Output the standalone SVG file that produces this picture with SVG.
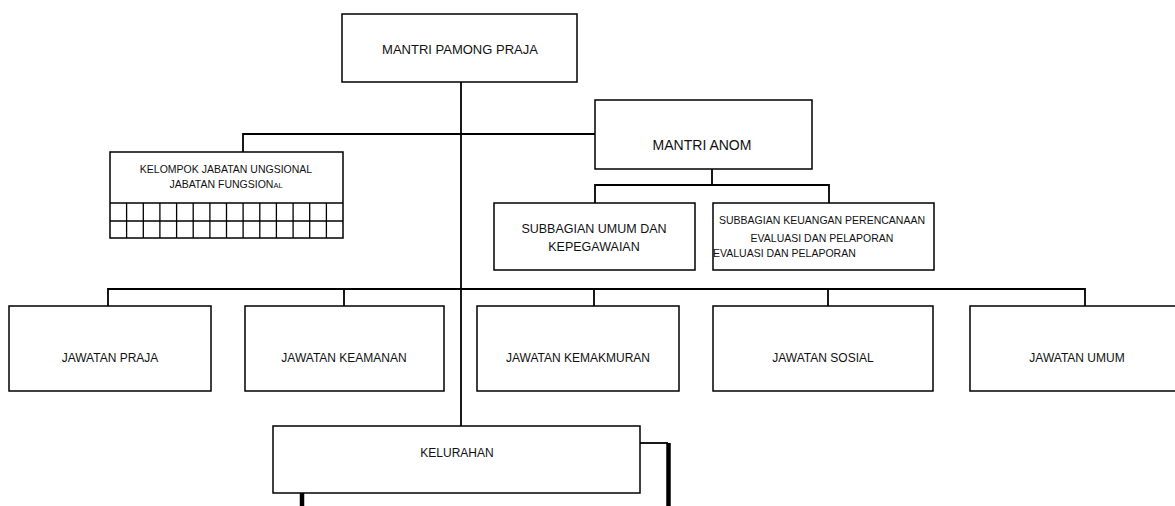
<svg xmlns="http://www.w3.org/2000/svg" width="1175" height="506" viewBox="0 0 1175 506">
<style>
.box{fill:#fff;stroke:#000;stroke-width:1.5}
.ln{fill:none;stroke:#000;stroke-width:1.8}
.thick{fill:none;stroke:#000;stroke-width:4.5}
text{font-family:"Liberation Sans",Arial,sans-serif;fill:#111;text-anchor:middle}
.t12{font-size:12px}
</style>
<rect width="1175" height="506" fill="#fff"/>
<g id="connectors">
<path class="ln" d="M461 82 V426"/>
<path class="ln" d="M243 152 V134 H595"/>
<path class="ln" d="M712 169 V185 M595 203 V185 H829 V203"/>
<path class="ln" d="M108 306 V289 H1085 V306 M344 289 V306 M594 289 V306 M828 289 V306"/>
<path class="ln" d="M636 443 H668"/>
<path class="thick" d="M668.5 443 V506"/>
<path class="thick" d="M302 493 V506"/>
</g>
<g id="mantri-pamong-praja">
<rect class="box" x="342" y="14" width="235" height="68"/>
<text x="460" y="54" style="font-size:13px">MANTRI PAMONG PRAJA</text>
</g>
<g id="mantri-anom">
<rect class="box" x="595" y="100" width="217" height="69"/>
<text x="702" y="150" style="font-size:14px">MANTRI ANOM</text>
</g>
<g id="kelompok-jabatan">
<rect class="box" x="110" y="152" width="233" height="86"/>
<path class="ln" style="stroke-width:1.3" d="M110 203 H343 M110 221 H343 M126.6 203 V238 M143.3 203 V238 M159.9 203 V238 M176.6 203 V238 M193.2 203 V238 M209.9 203 V238 M226.5 203 V238 M243.1 203 V238 M259.8 203 V238 M276.4 203 V238 M293.1 203 V238 M309.7 203 V238 M326.4 203 V238"/>
<text x="226" y="173" style="font-size:10.5px">KELOMPOK JABATAN UNGSIONAL</text>
<text x="226" y="188" style="font-size:10.5px">JABATAN FUNGSION<tspan style="font-size:7.5px">AL</tspan></text>
</g>
<g id="subbagian-umum">
<rect class="box" x="494" y="203" width="201" height="67"/>
<text x="594" y="233" style="font-size:12.5px">SUBBAGIAN UMUM DAN</text>
<text x="594" y="251" style="font-size:12.5px">KEPEGAWAIAN</text>
</g>
<g id="subbagian-keuangan">
<rect class="box" x="713" y="203" width="221" height="67"/>
<text x="822" y="224" style="font-size:10.5px">SUBBAGIAN KEUANGAN PERENCANAAN</text>
<text x="822" y="242" style="font-size:10.5px">EVALUASI DAN PELAPORAN</text>
<text x="713" y="257" style="font-size:10.5px;text-anchor:start">EVALUASI DAN PELAPORAN</text>
</g>
<g id="jawatan-praja">
<rect class="box" x="9" y="306" width="202" height="85"/>
<text class="t12" x="110" y="362">JAWATAN PRAJA</text>
</g>
<g id="jawatan-keamanan">
<rect class="box" x="245" y="306" width="199" height="85"/>
<text class="t12" x="344" y="362">JAWATAN KEAMANAN</text>
</g>
<g id="jawatan-kemakmuran">
<rect class="box" x="477" y="306" width="202" height="85"/>
<text class="t12" x="578" y="362">JAWATAN KEMAKMURAN</text>
</g>
<g id="jawatan-sosial">
<rect class="box" x="713" y="306" width="220" height="85"/>
<text class="t12" x="823" y="362">JAWATAN SOSIAL</text>
</g>
<g id="jawatan-umum">
<rect class="box" x="970" y="306" width="215" height="85"/>
<text class="t12" x="1077" y="362">JAWATAN UMUM</text>
</g>
<g id="kelurahan">
<rect class="box" x="273" y="426" width="367" height="67"/>
<text class="t12" x="457" y="457">KELURAHAN</text>
</g>
</svg>
